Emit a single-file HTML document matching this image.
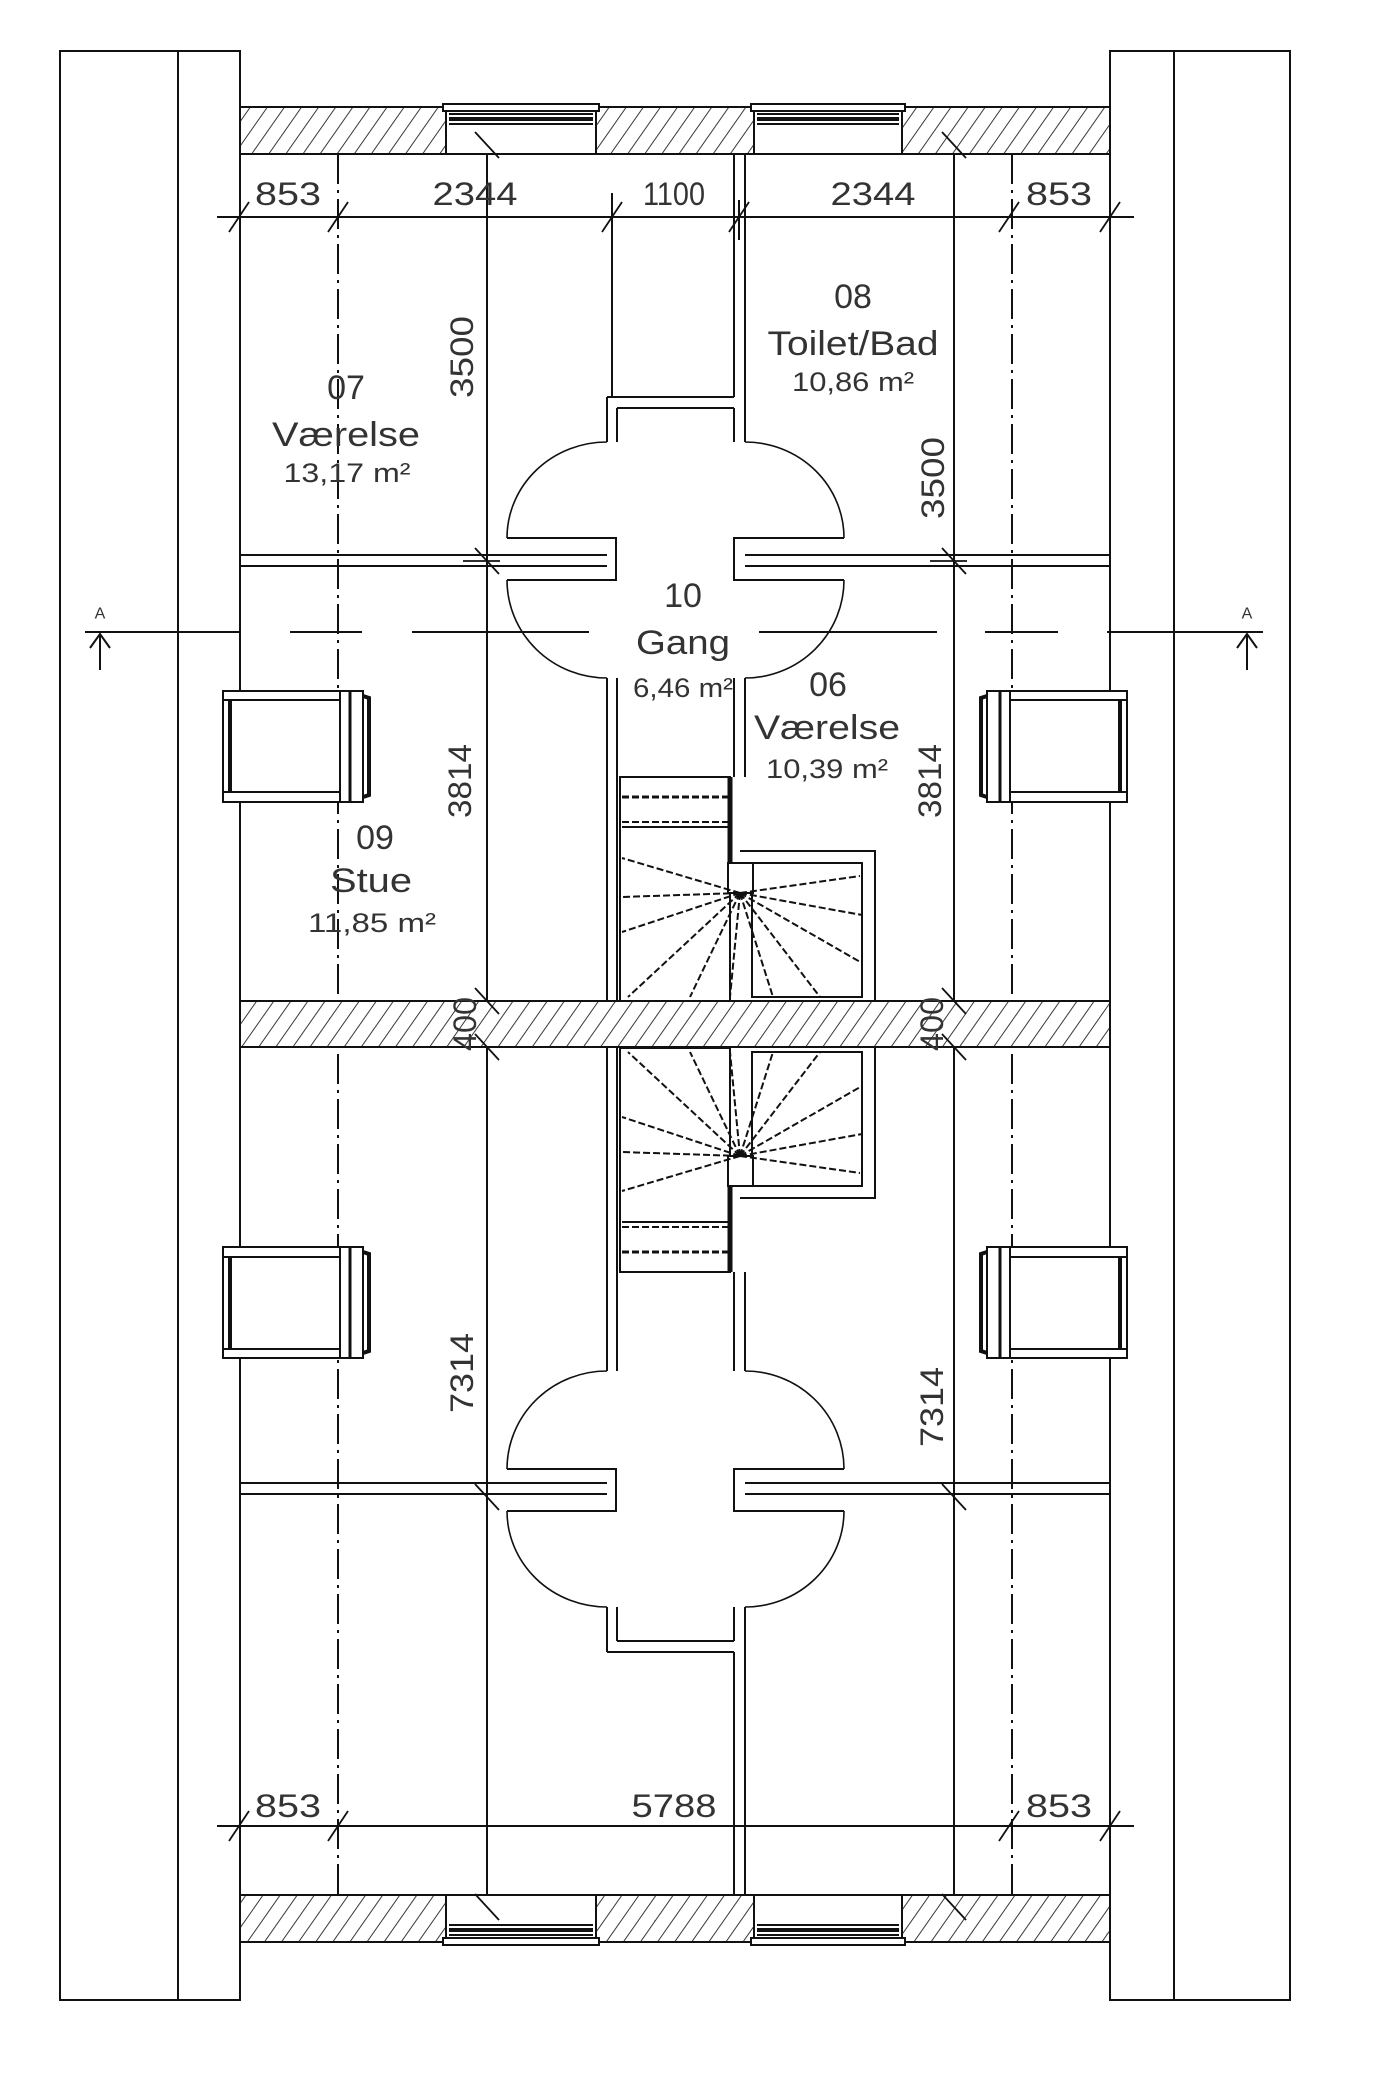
<!DOCTYPE html>
<html><head><meta charset="utf-8"><style>html,body{margin:0;padding:0;background:#fff}svg{display:block}</style></head>
<body>
<svg width="1400" height="2090" viewBox="0 0 1400 2090" xmlns="http://www.w3.org/2000/svg">
<defs>
<pattern id="h" patternUnits="userSpaceOnUse" width="14" height="14" patternTransform="rotate(35)">
<rect width="14" height="14" fill="#fff"/><line x1="0" y1="0" x2="0" y2="14" stroke="#222" stroke-width="1.8"/>
</pattern>
<g id="half" fill="none" stroke="#111" stroke-width="2">
  <!-- windows -->
  <g>
    <rect x="446" y="107" width="150" height="47" fill="#fff"/>
    <rect x="443" y="104" width="156" height="7" fill="#fff"/>
    <line x1="449" y1="114" x2="593" y2="114"/>
    <line x1="449" y1="119" x2="593" y2="119" stroke-width="4"/>
    <line x1="449" y1="124" x2="593" y2="124"/>
    <rect x="754" y="107" width="148" height="47" fill="#fff"/>
    <rect x="751" y="104" width="154" height="7" fill="#fff"/>
    <line x1="757" y1="114" x2="899" y2="114"/>
    <line x1="757" y1="119" x2="899" y2="119" stroke-width="4"/>
    <line x1="757" y1="124" x2="899" y2="124"/>
  </g>
  <line x1="734" y1="154" x2="734" y2="397"/>
  <line x1="745" y1="154" x2="745" y2="442"/>
  <line x1="607" y1="397" x2="734" y2="397"/>
  <line x1="617" y1="408" x2="734" y2="408"/>
  <line x1="607" y1="397" x2="607" y2="442"/>
  <line x1="617" y1="408" x2="617" y2="442"/>
  <line x1="734" y1="408" x2="734" y2="442"/>
  <path d="M607,442 A100,96 0 0 0 507,538" stroke-width="1.6"/>
  <path d="M507,580 A100,98 0 0 0 607,678" stroke-width="1.6"/>
  <path d="M745,442 A99,96 0 0 1 844,538" stroke-width="1.6"/>
  <path d="M844,580 A99,98 0 0 1 745,678" stroke-width="1.6"/>
  <polyline points="507,538 616,538 616,580 507,580"/>
  <polyline points="844,538 734,538 734,580 844,580"/>
  <line x1="240" y1="555" x2="607" y2="555"/>
  <line x1="240" y1="566" x2="607" y2="566"/>
  <line x1="745" y1="555" x2="1110" y2="555"/>
  <line x1="745" y1="566" x2="1110" y2="566"/>
  <line x1="607" y1="678" x2="607" y2="1001"/>
  <line x1="617" y1="678" x2="617" y2="1001"/>
  <line x1="734" y1="678" x2="734" y2="777"/>
  <line x1="745" y1="678" x2="745" y2="777"/>
  <rect x="620" y="777" width="110" height="224"/>
  <line x1="730" y1="777" x2="730" y2="893" stroke-width="5"/>
  <polyline points="740,851 875,851 875,1001"/>
  <rect x="752" y="863" width="110" height="134"/>
  <rect x="728" y="863" width="25" height="30" fill="#fff"/>
  <g stroke-dasharray="7 3" stroke-width="2">
    <line x1="622" y1="797" x2="728" y2="797" stroke-width="3"/>
    <line x1="622" y1="822" x2="728" y2="822"/>
    <line x1="740" y1="893" x2="622" y2="858"/>
    <line x1="740" y1="893" x2="622" y2="897"/>
    <line x1="740" y1="893" x2="622" y2="932"/>
    <line x1="740" y1="893" x2="628" y2="997"/>
    <line x1="740" y1="893" x2="690" y2="997"/>
    <line x1="740" y1="893" x2="730" y2="997"/>
    <line x1="740" y1="893" x2="773" y2="997"/>
    <line x1="740" y1="893" x2="820" y2="997"/>
    <line x1="740" y1="893" x2="862" y2="963"/>
    <line x1="740" y1="893" x2="862" y2="915"/>
    <line x1="740" y1="893" x2="860" y2="876"/>
  </g>
  <line x1="622" y1="827" x2="728" y2="827"/>
  <g>
    <rect x="223" y="691" width="117" height="111" fill="#fff"/>
    <line x1="223" y1="700" x2="340" y2="700"/>
    <line x1="223" y1="792" x2="340" y2="792"/>
    <line x1="230" y1="700" x2="230" y2="792" stroke-width="4"/>
    <rect x="340" y="691" width="23" height="111" fill="#fff"/>
    <line x1="350" y1="691" x2="350" y2="802" stroke-width="3"/>
    <path d="M363,696 L369,698 L369,795 L363,797" stroke-width="4"/>
  </g>
  <g>
    <rect x="1010" y="691" width="117" height="111" fill="#fff"/>
    <line x1="1010" y1="700" x2="1127" y2="700"/>
    <line x1="1010" y1="792" x2="1127" y2="792"/>
    <line x1="1120" y1="700" x2="1120" y2="792" stroke-width="4"/>
    <rect x="987" y="691" width="23" height="111" fill="#fff"/>
    <line x1="1000" y1="691" x2="1000" y2="802" stroke-width="3"/>
    <path d="M987,696 L981,698 L981,795 L987,797" stroke-width="4"/>
  </g>
</g>
</defs>

<g fill="none" stroke="#111" stroke-width="2">
  <rect x="60" y="51" width="180" height="1949"/>
  <line x1="178" y1="51" x2="178" y2="2000"/>
  <rect x="1110" y="51" width="180" height="1949"/>
  <line x1="1174" y1="51" x2="1174" y2="2000"/>
  <line x1="338" y1="154" x2="338" y2="1895" stroke-dasharray="30 6 3 6"/>
  <line x1="1012" y1="154" x2="1012" y2="1895" stroke-dasharray="30 6 3 6"/>
  <line x1="487" y1="132" x2="487" y2="1920"/>
  <line x1="954" y1="132" x2="954" y2="1922"/>
  <line x1="612" y1="193" x2="612" y2="397"/>
  <rect x="240" y="107" width="870" height="47" fill="url(#h)"/>
  <rect x="240" y="1895" width="870" height="47" fill="url(#h)"/>
</g>

<use href="#half"/>
<use href="#half" transform="translate(0,2049) scale(1,-1)"/>

<g fill="none" stroke="#111" stroke-width="2">
  <rect x="240" y="1001" width="870" height="46" fill="url(#h)"/>
  <line x1="217" y1="217" x2="1134" y2="217"/>
  <g stroke-width="1.8">
    <line x1="229" y1="232" x2="249" y2="202"/>
    <line x1="328" y1="232" x2="348" y2="202"/>
    <line x1="602" y1="232" x2="622" y2="202"/>
    <line x1="729" y1="232" x2="749" y2="202"/>
    <line x1="999" y1="232" x2="1019" y2="202"/>
    <line x1="1100" y1="232" x2="1120" y2="202"/>
  </g>
  <line x1="739" y1="200" x2="739" y2="240"/>
  <line x1="217" y1="1826" x2="1134" y2="1826"/>
  <g stroke-width="1.8">
    <line x1="229" y1="1841" x2="249" y2="1811"/>
    <line x1="328" y1="1841" x2="348" y2="1811"/>
    <line x1="999" y1="1841" x2="1019" y2="1811"/>
    <line x1="1100" y1="1841" x2="1120" y2="1811"/>
  </g>
  <g stroke-width="1.8">
    <line x1="475" y1="132" x2="499" y2="158"/>
    <line x1="475" y1="548" x2="499" y2="574"/>
    <line x1="463" y1="561" x2="500" y2="561"/>
    <line x1="475" y1="988" x2="499" y2="1014"/>
    <line x1="475" y1="1034" x2="499" y2="1060"/>
    <line x1="475" y1="1484" x2="499" y2="1510"/>
    <line x1="475" y1="1894" x2="499" y2="1920"/>
    <line x1="942" y1="132" x2="966" y2="158"/>
    <line x1="942" y1="548" x2="966" y2="574"/>
    <line x1="930" y1="561" x2="967" y2="561"/>
    <line x1="942" y1="988" x2="966" y2="1014"/>
    <line x1="942" y1="1034" x2="966" y2="1060"/>
    <line x1="942" y1="1484" x2="966" y2="1510"/>
    <line x1="942" y1="1894" x2="966" y2="1920"/>
  </g>
  <g stroke-width="2">
    <line x1="85" y1="632" x2="240" y2="632"/>
    <line x1="290" y1="632" x2="362" y2="632"/>
    <line x1="412" y1="632" x2="589" y2="632"/>
    <line x1="759" y1="632" x2="937" y2="632"/>
    <line x1="985" y1="632" x2="1058" y2="632"/>
    <line x1="1107" y1="632" x2="1263" y2="632"/>
    <line x1="100" y1="634" x2="100" y2="670"/>
    <polyline points="90,648 100,634 110,648"/>
    <line x1="1247" y1="634" x2="1247" y2="670"/>
    <polyline points="1237,648 1247,634 1257,648"/>
  </g>
</g>

<g font-family="'Liberation Sans', sans-serif" fill="#333" text-anchor="middle" dominant-baseline="central">
  <g font-size="32">
    <text x="288" y="194" textLength="66" lengthAdjust="spacingAndGlyphs">853</text>
    <text x="475" y="194" textLength="85" lengthAdjust="spacingAndGlyphs">2344</text>
    <text x="674" y="194" textLength="62" lengthAdjust="spacingAndGlyphs">1100</text>
    <text x="873" y="194" textLength="85" lengthAdjust="spacingAndGlyphs">2344</text>
    <text x="1059" y="194" textLength="66" lengthAdjust="spacingAndGlyphs">853</text>
    <text x="288" y="1806" textLength="66" lengthAdjust="spacingAndGlyphs">853</text>
    <text x="674" y="1806" textLength="85" lengthAdjust="spacingAndGlyphs">5788</text>
    <text x="1059" y="1806" textLength="66" lengthAdjust="spacingAndGlyphs">853</text>
    <text transform="translate(462,357) rotate(-90)" textLength="82" lengthAdjust="spacingAndGlyphs">3500</text>
    <text transform="translate(933,478) rotate(-90)" textLength="82" lengthAdjust="spacingAndGlyphs">3500</text>
    <text transform="translate(460,781) rotate(-90)" textLength="74" lengthAdjust="spacingAndGlyphs">3814</text>
    <text transform="translate(930,781) rotate(-90)" textLength="74" lengthAdjust="spacingAndGlyphs">3814</text>
    <text transform="translate(465,1024) rotate(-90)" textLength="54" lengthAdjust="spacingAndGlyphs">400</text>
    <text transform="translate(932,1024) rotate(-90)" textLength="54" lengthAdjust="spacingAndGlyphs">400</text>
    <text transform="translate(462,1373) rotate(-90)" textLength="80" lengthAdjust="spacingAndGlyphs">7314</text>
    <text transform="translate(932,1407) rotate(-90)" textLength="80" lengthAdjust="spacingAndGlyphs">7314</text>
  </g>
  <g font-size="16"><text x="100" y="614">A</text><text x="1247" y="614">A</text></g>
  <g font-size="34">
    <text x="346" y="388">07</text>
    <text x="346" y="435" textLength="148" lengthAdjust="spacingAndGlyphs">Værelse</text>
    <text x="853" y="297">08</text>
    <text x="853" y="344" textLength="171" lengthAdjust="spacingAndGlyphs">Toilet/Bad</text>
    <text x="683" y="596">10</text>
    <text x="683" y="643" textLength="94" lengthAdjust="spacingAndGlyphs">Gang</text>
    <text x="828" y="685">06</text>
    <text x="827" y="728" textLength="146" lengthAdjust="spacingAndGlyphs">Værelse</text>
    <text x="375" y="838">09</text>
    <text x="371" y="881" textLength="82" lengthAdjust="spacingAndGlyphs">Stue</text>
  </g>
  <g font-size="27">
    <text x="347" y="473" textLength="127" lengthAdjust="spacingAndGlyphs">13,17 m²</text>
    <text x="853" y="382" textLength="122" lengthAdjust="spacingAndGlyphs">10,86 m²</text>
    <text x="683" y="688" textLength="100" lengthAdjust="spacingAndGlyphs">6,46 m²</text>
    <text x="827" y="769" textLength="122" lengthAdjust="spacingAndGlyphs">10,39 m²</text>
    <text x="372" y="923" textLength="128" lengthAdjust="spacingAndGlyphs">11,85 m²</text>
  </g>
</g>
</svg>
</body></html>
